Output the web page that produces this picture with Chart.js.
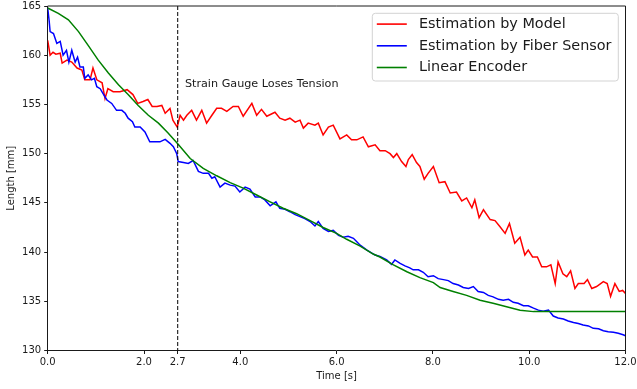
<!DOCTYPE html>
<html>
<head>
<meta charset="utf-8">
<script src="https://cdn.jsdelivr.net/npm/chart.js@4.4.1/dist/chart.umd.min.js"></script>
<style>
  html, body { margin: 0; padding: 0; background: #fff; }
  #wrap { width: 637px; height: 389px; position: relative; }
</style>
</head>
<body>
<div id="wrap"><canvas id="c" width="637" height="389"></canvas></div>
<script>
// ---- Data ----
const modelTime = [0,0.05,0.11,0.17,0.26,0.30,0.40,0.50,0.61,0.71,0.77,0.88,0.94,1.02,1.13,1.19,1.25,1.36,1.50,1.65,1.77,1.87,1.98,2.08,2.17,2.27,2.37,2.44,2.54,2.60,2.69,2.75,2.82,2.89,2.99,3.09,3.20,3.30,3.41,3.51,3.61,3.72,3.85,3.96,4.06,4.24,4.34,4.44,4.55,4.72,4.82,4.93,5.03,5.14,5.24,5.31,5.41,5.55,5.62,5.72,5.83,5.93,6.07,6.21,6.31,6.42,6.55,6.66,6.80,6.90,7.01,7.11,7.18,7.25,7.35,7.44,7.49,7.57,7.66,7.73,7.82,7.90,8.01,8.13,8.25,8.36,8.49,8.60,8.70,8.81,8.87,8.96,9.05,9.19,9.29,9.39,9.50,9.59,9.70,9.81,9.91,9.98,10.07,10.17,10.26,10.36,10.45,10.54,10.60,10.70,10.78,10.86,10.95,11.02,11.14,11.21,11.30,11.40,11.54,11.62,11.69,11.78,11.87,11.94,12.0];
const modelLength = [161.5,160.0,160.3,160.1,160.2,159.2,159.5,159.3,158.7,158.5,157.5,157.5,158.7,157.5,157.2,155.6,156.6,156.3,156.3,156.5,156.0,155.1,155.3,155.5,154.8,154.8,154.9,154.1,154.6,153.4,152.7,153.9,153.4,153.9,154.4,153.4,154.4,153.1,153.9,154.6,154.6,154.3,154.8,154.8,153.8,155.1,153.9,154.5,153.8,154.2,153.6,153.4,153.6,153.2,153.4,152.6,153.1,152.9,153.1,151.9,152.7,152.9,151.5,151.9,151.4,151.4,151.7,150.7,150.9,150.3,150.3,150.0,149.6,150.0,149.2,148.7,149.4,149.9,149.1,148.7,147.4,148.0,148.7,147.05,147.15,146.0,146.1,145.2,145.5,144.5,145.3,143.5,144.3,143.3,143.2,142.6,141.9,142.9,140.9,141.5,139.7,140.2,139.5,139.5,138.5,138.5,138.7,136.8,139.0,137.8,137.5,138.1,136.3,136.8,136.8,137.2,136.3,136.5,137.0,136.8,135.5,136.8,136.0,136.1,135.8];

const fiberTime = [0,0.03,0.05,0.12,0.19,0.26,0.32,0.39,0.44,0.50,0.57,0.62,0.67,0.74,0.77,0.84,0.91,0.97,1.02,1.09,1.15,1.23,1.33,1.43,1.54,1.61,1.67,1.76,1.81,1.92,2.02,2.12,2.23,2.33,2.44,2.54,2.61,2.68,2.71,2.82,2.92,3.02,3.13,3.23,3.34,3.41,3.47,3.58,3.68,3.79,3.89,3.99,4.10,4.20,4.31,4.41,4.51,4.62,4.74,4.82,4.93,5.03,5.14,5.24,5.34,5.45,5.55,5.62,5.72,5.83,5.93,6.04,6.14,6.24,6.35,6.49,6.63,6.80,6.90,7.04,7.14,7.21,7.32,7.42,7.52,7.59,7.70,7.80,7.90,8.01,8.11,8.22,8.32,8.42,8.53,8.63,8.74,8.84,8.94,9.05,9.15,9.25,9.36,9.46,9.57,9.67,9.77,9.88,9.98,10.09,10.19,10.29,10.40,10.50,10.60,10.71,10.81,10.92,11.02,11.12,11.23,11.33,11.44,11.54,11.64,11.75,11.85,11.95,12.0];
const fiberLength = [164.8,163.5,162.4,162.2,161.2,161.4,160.0,160.5,159.3,160.5,159.3,159.8,158.8,158.8,157.65,158.0,157.5,157.65,156.8,156.6,156.1,155.45,155.1,154.4,154.4,154.1,153.6,153.25,152.7,152.7,152.2,151.2,151.2,151.2,151.45,151.05,150.7,150.0,149.2,149.1,149.0,149.3,148.2,148.0,148.0,147.5,147.65,146.6,147.0,146.8,146.7,146.1,146.6,146.4,145.6,145.6,145.3,144.7,145.1,144.45,144.35,144.1,143.8,143.6,143.4,143.1,142.65,143.1,142.4,142.1,142.2,141.7,141.5,141.6,141.4,140.7,140.2,139.7,139.55,139.2,138.75,139.2,138.85,138.6,138.4,138.2,138.2,137.95,137.5,137.6,137.3,137.2,137.1,136.8,136.65,136.4,136.3,136.5,136.0,135.9,135.6,135.45,135.2,135.1,135.2,134.9,134.8,134.55,134.55,134.3,134.1,134.0,134.1,133.5,133.3,133.2,133.0,132.85,132.75,132.6,132.5,132.25,132.2,132.0,131.9,131.85,131.75,131.6,131.5];

const encoderTime = [0,0.22,0.43,0.64,0.84,1.05,1.26,1.47,1.67,1.88,2.09,2.30,2.50,2.70,2.96,3.23,3.51,3.79,4.06,4.34,4.62,4.89,5.17,5.45,5.72,6.00,6.21,6.49,6.76,6.90,7.18,7.46,7.73,8.01,8.15,8.42,8.70,8.98,9.25,9.53,9.81,10.09,10.30,12.0];
const encoderLength = [164.8,164.25,163.6,162.4,161.0,159.5,158.2,157.0,156.0,154.9,153.9,153.1,152.1,151.0,149.5,148.5,147.75,147.05,146.5,145.8,145.1,144.45,143.9,143.2,142.5,141.9,141.3,140.6,139.8,139.5,138.7,138.0,137.4,136.9,136.4,136.0,135.6,135.1,134.8,134.45,134.1,133.95,133.95,133.95];

const seriesNames = ['Estimation by Model', 'Estimation by Fiber Sensor', 'Linear Encoder'];
const xTickValues = [0, 2, 2.7, 4, 6, 8, 10, 12];
const markerTime = 2.7;
const annotationText = 'Strain Gauge Loses Tension';
const annotationX = 2.85;
const annotationY = 157.07;

const FONT = '"DejaVu Sans", "Liberation Sans", sans-serif';
const pts = (t, v) => t.map((x, i) => ({ x: x, y: v[i] }));

const overlay = {
  id: 'overlay',
  afterDatasetsDraw(chart) {
    const { ctx, chartArea: a, scales: { x, y } } = chart;
    ctx.save();
    // dashed marker line
    const mx = x.getPixelForValue(markerTime);
    ctx.strokeStyle = '#000';
    ctx.lineWidth = 1;
    ctx.setLineDash([4, 2]);
    ctx.beginPath();
    ctx.moveTo(mx, a.top);
    ctx.lineTo(mx, a.bottom);
    ctx.stroke();
    ctx.setLineDash([]);
    // annotation
    ctx.font = '11.2px ' + FONT;
    ctx.fillStyle = '#1a1a1a';
    ctx.textBaseline = 'middle';
    ctx.textAlign = 'left';
    ctx.fillText(annotationText, x.getPixelForValue(annotationX), y.getPixelForValue(annotationY));
    // top/right spines
    ctx.strokeStyle = '#1a1a1a';
    ctx.lineWidth = 1;
    ctx.beginPath();
    ctx.moveTo(a.left, a.top);
    ctx.lineTo(a.right, a.top);
    ctx.lineTo(a.right, a.bottom);
    ctx.stroke();
    // legend
    const bw = 246, bh = 67.7;
    const bx = a.right - 7.2 - bw, by = a.top + 7.3;
    const r = 3;
    ctx.beginPath();
    ctx.moveTo(bx + r, by);
    ctx.lineTo(bx + bw - r, by);
    ctx.arcTo(bx + bw, by, bx + bw, by + r, r);
    ctx.lineTo(bx + bw, by + bh - r);
    ctx.arcTo(bx + bw, by + bh, bx + bw - r, by + bh, r);
    ctx.lineTo(bx + r, by + bh);
    ctx.arcTo(bx, by + bh, bx, by + bh - r, r);
    ctx.lineTo(bx, by + r);
    ctx.arcTo(bx, by, bx + r, by, r);
    ctx.closePath();
    ctx.fillStyle = 'rgba(255,255,255,0.8)';
    ctx.fill();
    ctx.strokeStyle = '#d3d3d3';
    ctx.stroke();
    ctx.font = '14.4px ' + FONT;
    chart.data.datasets.forEach((ds, i) => {
      const ry = by + 10.8 + i * 21.7;
      ctx.strokeStyle = ds.borderColor;
      ctx.lineWidth = 1.6;
      ctx.beginPath();
      ctx.moveTo(bx + 4.5, ry);
      ctx.lineTo(bx + 34.5, ry);
      ctx.stroke();
      ctx.fillStyle = '#1a1a1a';
      ctx.fillText(ds.label, bx + 46.7, ry);
    });
    ctx.restore();
  }
};

new Chart(document.getElementById('c'), {
  type: 'line',
  data: {
    datasets: [
      { label: seriesNames[0], data: pts(modelTime, modelLength), borderColor: '#ff0000', order: 2 },
      { label: seriesNames[1], data: pts(fiberTime, fiberLength), borderColor: '#0000ff', order: 1 },
      { label: seriesNames[2], data: pts(encoderTime, encoderLength), borderColor: '#008000', order: 0 }
    ]
  },
  options: {
    responsive: false,
    animation: false,
    datasets: { line: { borderWidth: 1.5, pointRadius: 0, tension: 0, fill: false } },
    layout: { padding: { top: 6, right: 11.5, left: 0, bottom: 0 } },
    plugins: { legend: { display: false }, tooltip: { enabled: false } },
    scales: {
      x: {
        type: 'linear',
        min: 0, max: 12,
        afterBuildTicks: (s) => { s.ticks = xTickValues.map(v => ({ value: v })); },
        afterFit: (s) => { s.height = 38.5; s.paddingLeft = 0; s.paddingRight = 0; },
        ticks: {
          callback: (v) => Number(v).toFixed(1),
          font: { family: FONT, size: 10 },
          color: '#1a1a1a',
          padding: 2,
          maxRotation: 0,
          autoSkip: false
        },
        grid: { drawOnChartArea: false, drawTicks: true, tickLength: 3.5, color: '#1a1a1a' },
        border: { display: true, color: '#1a1a1a', width: 1 },
        title: {
          display: true, text: 'Time [s]',
          font: { family: FONT, size: 10 }, color: '#1a1a1a',
          padding: { top: 0, bottom: 7 }
        }
      },
      y: {
        type: 'linear',
        min: 130, max: 165,
        afterFit: (s) => { s.width = 47.7; s.paddingTop = 0; s.paddingBottom = 0; },
        ticks: {
          stepSize: 5,
          callback: (v) => String(v),
          font: { family: FONT, size: 10 },
          color: '#1a1a1a',
          padding: 3
        },
        grid: { drawOnChartArea: false, drawTicks: true, tickLength: 3.5, color: '#1a1a1a' },
        border: { display: true, color: '#1a1a1a', width: 1 },
        title: {
          display: true, text: 'Length [mm]',
          font: { family: FONT, size: 10 }, color: '#1a1a1a',
          padding: { top: 5, bottom: 0 }
        }
      }
    }
  },
  plugins: [overlay]
});
</script>
</body>
</html>
